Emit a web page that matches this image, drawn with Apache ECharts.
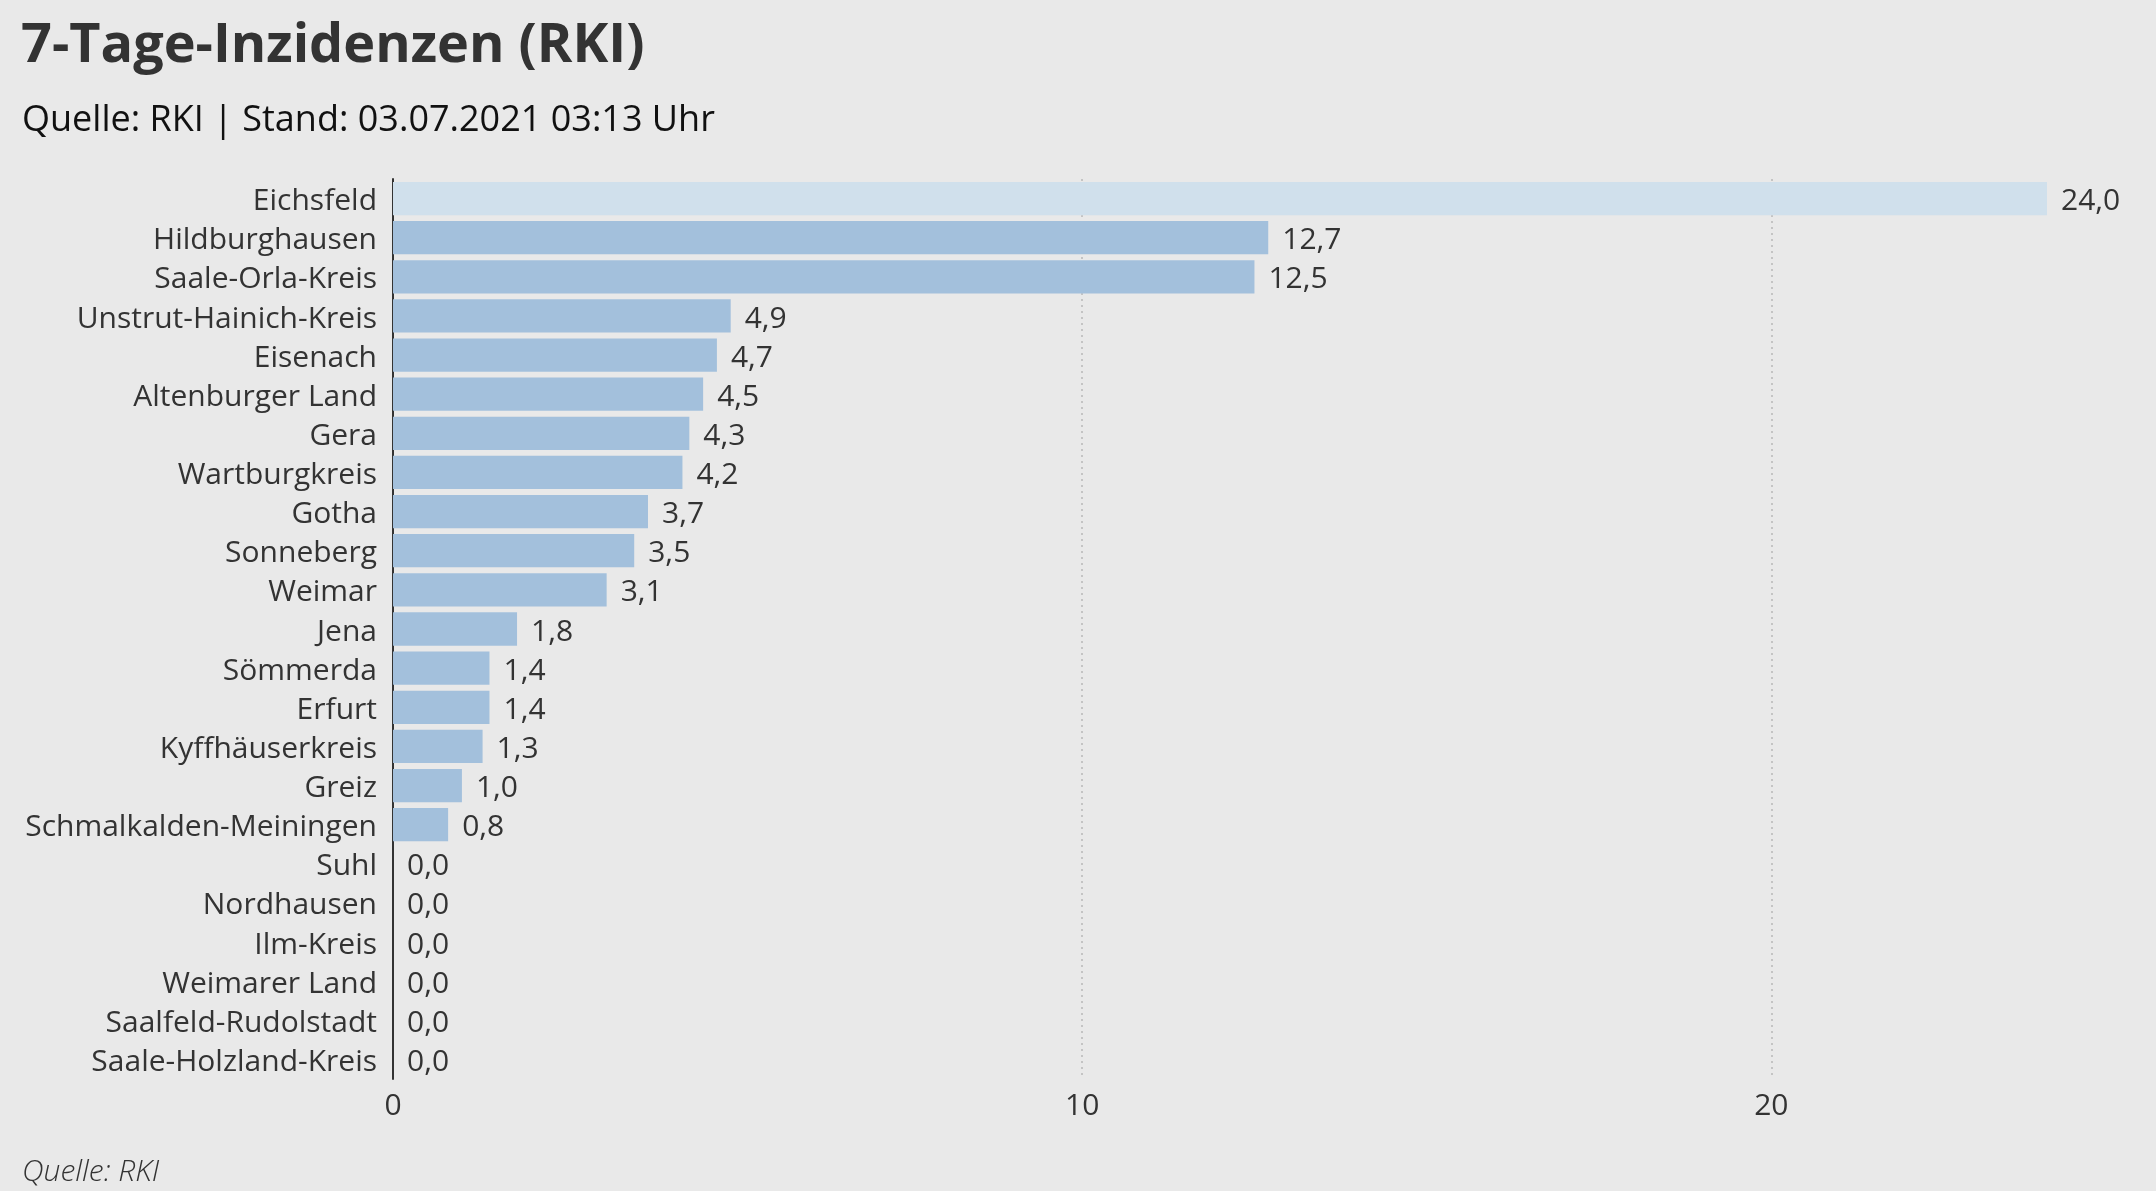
<!DOCTYPE html>
<html>
<head>
<meta charset="utf-8">
<script src="https://cdn.jsdelivr.net/npm/echarts@6/dist/echarts.min.js"></script>
<style>
  html, body { margin: 0; padding: 0; background: #e9e9e9; }
  #chart { width: 2156px; height: 1191px; }
</style>
</head>
<body>
<div id="chart"></div>
<script>
// Landkreise (von oben nach unten)
var categories = ['Eichsfeld', 'Hildburghausen', 'Saale-Orla-Kreis', 'Unstrut-Hainich-Kreis', 'Eisenach',
  'Altenburger Land', 'Gera', 'Wartburgkreis', 'Gotha', 'Sonneberg', 'Weimar', 'Jena', 'Sömmerda',
  'Erfurt', 'Kyffhäuserkreis', 'Greiz', 'Schmalkalden-Meiningen', 'Suhl', 'Nordhausen', 'Ilm-Kreis',
  'Weimarer Land', 'Saalfeld-Rudolstadt', 'Saale-Holzland-Kreis'];
// 7-Tage-Inzidenz
var values = [24.0, 12.7, 12.5, 4.9, 4.7, 4.5, 4.3, 4.2, 3.7, 3.5, 3.1, 1.8, 1.4, 1.4, 1.3, 1.0, 0.8,
  0.0, 0.0, 0.0, 0.0, 0.0, 0.0];
var xTicks = [0, 10, 20];
var highlighted = ['Eichsfeld'];

var fontFamily = '"Open Sans", sans-serif';

function getEchartsBar () {
  const myChart = echarts.init(document.getElementById('chart'));

  const option = {
    backgroundColor: '#e9e9e9',
    textStyle: { fontFamily: fontFamily },
    title: [
      {
        text: '7-Tage-Inzidenzen (RKI)',
        left: 16,
        top: 15,
        textStyle: { color: '#333', fontSize: 54, fontWeight: 'bold', fontFamily: fontFamily }
      },
      {
        text: 'Quelle: RKI | Stand: 03.07.2021 03:13 Uhr',
        left: 17,
        top: 98,
        textStyle: { color: '#111', fontSize: 36, fontWeight: 'normal', fontFamily: fontFamily }
      },
      {
        text: 'Quelle: RKI',
        left: 17,
        top: 1152,
        textStyle: { color: '#333', fontSize: 30, fontStyle: 'italic', fontWeight: 300, fontFamily: fontFamily }
      }
    ],
    grid: {
      left: 393,
      right: 2156 - 2047,
      top: 179,
      bottom: 1191 - 1079,
      containLabel: false
    },
    xAxis: {
      type: 'value',
      min: 0,
      max: 24,
      interval: 10,
      axisLine: { show: false },
      axisTick: { show: false },
      axisLabel: {
        color: '#333',
        fontSize: 30,
        margin: 12,
        showMaxLabel: false,
        formatter: function (v) { return xTicks.indexOf(v) >= 0 ? String(v) : ''; }
      },
      splitLine: {
        show: true,
        showMinLine: false,
        showMaxLine: false,
        lineStyle: { color: '#c4c4c4', type: [2, 4], width: 2 }
      }
    },
    yAxis: {
      type: 'category',
      inverse: true,
      data: categories,
      axisTick: { show: false },
      axisLine: { show: true, lineStyle: { color: '#333', width: 2 } },
      axisLabel: {
        color: '#333',
        fontSize: 30,
        margin: 16,
        formatter: '{a|{value}}',
        rich: {
          a: { color: '#333', fontSize: 30, fontFamily: fontFamily, padding: [6, 0, 0, 0] }
        }
      }
    },
    series: [
      {
        type: 'bar',
        barCategoryGap: '15%',
        data: values.map(function (v, i) {
          return {
            value: v,
            itemStyle: { color: highlighted.indexOf(categories[i]) >= 0 ? '#d0e0ec' : '#a3c0dc' }
          };
        }),
        label: {
          show: true,
          position: 'right',
          distance: 14,
          offset: [0, 3],
          color: '#333',
          fontSize: 30,
          formatter: function (p) { return p.value.toFixed(1).replace('.', ','); }
        },
        silent: true
      }
    ]
  };

  myChart.setOption(option);

  window.addEventListener('resize', function () {
    myChart.resize();
  });
}

getEchartsBar();
</script>
</body>
</html>
